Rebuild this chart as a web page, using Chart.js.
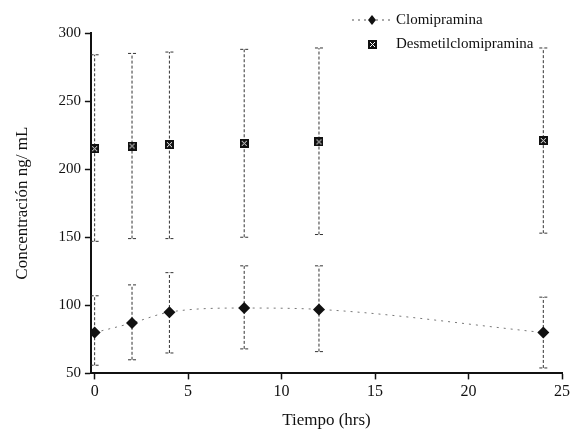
<!DOCTYPE html>
<html lang="es">
<head>
  <meta charset="UTF-8">
  <title>Concentración vs Tiempo</title>
  <style>
    html, body { margin: 0; padding: 0; background: #fff; }
    .chart-box { width: 573px; height: 439px; }
  </style>
</head>
<body>
  <div class="chart-box">
    <canvas id="grafica"></canvas>
  </div>

  <script src="https://cdn.jsdelivr.net/npm/chart.js"></script>
  <script>
    // datos
    const tiempo = [0, 2, 4, 8, 12, 24];
    const clomipramina = [80, 87, 95, 98, 97, 80];
    const clomiInf = [56, 60, 65, 68, 66, 54];
    const clomiSup = [107, 115, 124, 129, 129, 106];
    const desmetil = [215, 217, 218, 219, 220, 221];
    const desmetilInf = [147, 149, 149, 150, 152, 153];
    const desmetilSup = [284, 285, 286, 288, 289, 289];
    const nombres = ['Clomipramina', 'Desmetilclomipramina'];
    const ticksY = [50, 100, 150, 200, 250, 300];
    const ticksX = [0, 5, 10, 15, 20, 25];

    const serif = '"Liberation Serif", "DejaVu Serif", serif';

    // marcador cuadrado con aspas blancas
    const cuadro = document.createElement('canvas');
    cuadro.width = 9; cuadro.height = 9;
    (function () {
      const c = cuadro.getContext('2d');
      c.fillStyle = '#111';
      c.fillRect(0, 0, 9, 9);
      c.strokeStyle = '#fff';
      c.lineWidth = 1;
      c.beginPath();
      c.moveTo(2, 2); c.lineTo(7, 7);
      c.moveTo(7, 2); c.lineTo(2, 7);
      c.stroke();
    })();

    function puntos(ys) {
      return tiempo.map((t, i) => ({ x: t, y: ys[i] }));
    }

    // barras de error dibujadas con las escalas del grafico
    const barrasError = {
      id: 'barrasError',
      beforeDatasetsDraw(chart) {
        const ctx = chart.ctx;
        const sx = chart.scales.x, sy = chart.scales.y;
        chart.data.datasets.forEach(ds => {
          if (!ds.inf) return;
          ctx.save();
          ctx.strokeStyle = '#333';
          ctx.lineWidth = 1;
          ctx.setLineDash([3, 2]);
          ds.data.forEach((p, i) => {
            const x = sx.getPixelForValue(p.x);
            const y1 = sy.getPixelForValue(ds.inf[i]);
            const y2 = sy.getPixelForValue(ds.sup[i]);
            ctx.beginPath();
            ctx.moveTo(x, y1); ctx.lineTo(x, y2);
            ctx.moveTo(x - 4, y1); ctx.lineTo(x + 4, y1);
            ctx.moveTo(x - 4, y2); ctx.lineTo(x + 4, y2);
            ctx.stroke();
          });
          ctx.restore();
        });
      }
    };

    // leyenda dentro del area, arriba a la derecha
    const leyenda = {
      id: 'leyenda',
      afterDraw(chart) {
        const ctx = chart.ctx;
        ctx.save();
        ctx.font = '15px ' + serif;
        ctx.fillStyle = '#111';
        ctx.textBaseline = 'middle';
        // Clomipramina
        ctx.strokeStyle = '#555';
        ctx.setLineDash([2, 4]);
        ctx.beginPath();
        ctx.moveTo(352, 20); ctx.lineTo(392, 20);
        ctx.stroke();
        ctx.setLineDash([]);
        ctx.beginPath();
        ctx.moveTo(372, 15); ctx.lineTo(376, 20); ctx.lineTo(372, 25); ctx.lineTo(368, 20);
        ctx.closePath();
        ctx.fill();
        ctx.fillText(nombres[0], 396, 20);
        // Desmetilclomipramina
        ctx.drawImage(cuadro, 368, 40);
        ctx.fillText(nombres[1], 396, 44);
        ctx.restore();
      }
    };

    new Chart(document.getElementById('grafica'), {
      type: 'scatter',
      data: {
        datasets: [
          {
            label: nombres[0],
            data: puntos(clomipramina),
            inf: clomiInf,
            sup: clomiSup,
            showLine: true,
            tension: 0.4,
            cubicInterpolationMode: 'monotone',
            borderColor: '#777',
            borderWidth: 1,
            borderDash: [2, 5],
            backgroundColor: '#111',
            pointStyle: 'rectRot',
            pointRadius: 6,
            pointBorderWidth: 0
          },
          {
            label: nombres[1],
            data: puntos(desmetil),
            inf: desmetilInf,
            sup: desmetilSup,
            showLine: false,
            pointStyle: cuadro
          }
        ]
      },
      options: {
        responsive: true,
        maintainAspectRatio: false,
        animation: false,
        layout: { padding: { left: 8, right: 10, top: 33, bottom: 8 } },
        plugins: {
          legend: { display: false },
          tooltip: { enabled: false }
        },
        scales: {
          x: {
            type: 'linear',
            min: -0.2,
            max: 25,
            afterBuildTicks: s => { s.ticks = ticksX.map(v => ({ value: v })); },
            grid: { drawOnChartArea: false, tickLength: 6, tickColor: '#111', tickWidth: 1.5 },
            border: { color: '#111', width: 2 },
            ticks: { color: '#111', font: { family: serif, size: 16 }, padding: 3, maxRotation: 0 },
            title: { display: true, text: 'Tiempo (hrs)', color: '#111', font: { family: serif, size: 17 }, padding: { top: 6, bottom: 0 } }
          },
          y: {
            min: 50,
            max: 300,
            afterBuildTicks: s => { s.ticks = ticksY.map(v => ({ value: v })); },
            grid: { drawOnChartArea: false, tickLength: 6, tickColor: '#111', tickWidth: 1.5 },
            border: { color: '#111', width: 2 },
            ticks: { color: '#111', font: { family: serif, size: 15 }, padding: 4 },
            title: { display: true, text: 'Concentración ng/ mL', color: '#111', font: { family: serif, size: 17 }, padding: { top: 4, bottom: 22 } }
          }
        }
      },
      plugins: [barrasError, leyenda]
    });
  </script>
</body>
</html>
